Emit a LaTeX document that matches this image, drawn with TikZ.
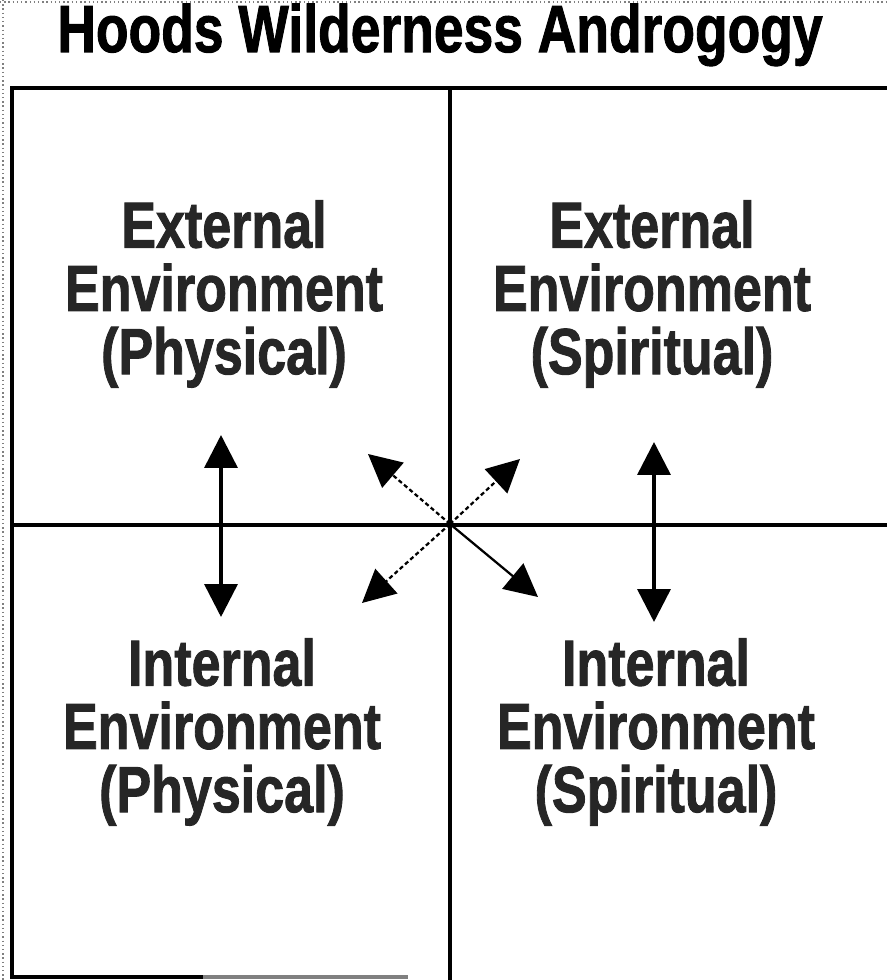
\documentclass[tikz,border=0pt]{standalone}
\usepackage{fontspec}
\setmainfont{Liberation Sans}[BoldFeatures={FakeBold=1.6}]
\usetikzlibrary{arrows.meta}

\begin{document}
\begin{tikzpicture}[>={Triangle[length=0.82cm, width=0.82cm]},
    frameline/.style={line width=2.5pt},
    arr/.style={<->, line width=2.5pt},
    diag/.style={->, line width=1.6pt},
    quad/.style={align=center, text=black!85, font=\fontsize{37}{36}\selectfont\bfseries, yscale=1.25, transform shape},
    heading/.style={anchor=base, font=\fontsize{38}{44}\selectfont\bfseries, yscale=1.25, transform shape}]
    \useasboundingbox (0,0) rectangle (22.175,24.5);

    % Outer border
    \draw[gray, dotted, line width=1pt] (0,24.45) -- (22.175,24.45);
    \draw[gray, dotted, line width=1pt] (0.075,24.5) -- (0.075,0);

    % Title
    \node[heading] (title) at (11.0,23.2) {Hoods Wilderness Androgogy};

    % Frame and quadrants
    \draw[frameline] (22.175,22.3) -- (0.3,22.3) -- (0.3,0.075) -- (5.08,0.075);
    \draw[frameline, gray] (5.08,0.075) -- (10.2,0.075);
    \draw[frameline] (11.25,22.3) -- (11.25,0);
    \draw[frameline] (0.3,11.375) -- (22.175,11.375);

    % Labels
    \node[quad] (extphys) at (5.6,17.15) {External\\Environment\\(Physical)};
    \node[quad] (extspir) at (16.3,17.15) {External\\Environment\\(Spiritual)};
    \node[quad] (intphys) at (5.55,6.2) {Internal\\Environment\\(Physical)};
    \node[quad] (intspir) at (16.4,6.2) {Internal\\Environment\\(Spiritual)};

    % Arrow ends
    \coordinate (lt) at (5.525,13.625);
    \coordinate (lb) at (5.525,9.075);
    \coordinate (rt) at (16.35,13.45);
    \coordinate (rb) at (16.35,8.95);
    \coordinate (centre) at (11.25,11.4);
    \coordinate (ul) at (9.2,13.15);
    \coordinate (ur) at (13.0,13.025);
    \coordinate (ll) at (9.05,9.425);
    \coordinate (lr) at (13.45,9.575);

    % Arrows
    \draw[arr] (lt) -- (lb);
    \draw[arr] (rt) -- (rb);
    \draw[diag, densely dashed] (centre) -- (ul);
    \draw[diag, densely dashed] (centre) -- (ur);
    \draw[diag, densely dashed] (centre) -- (ll);
    \draw[diag] (centre) -- (lr);
\end{tikzpicture}
\end{document}
